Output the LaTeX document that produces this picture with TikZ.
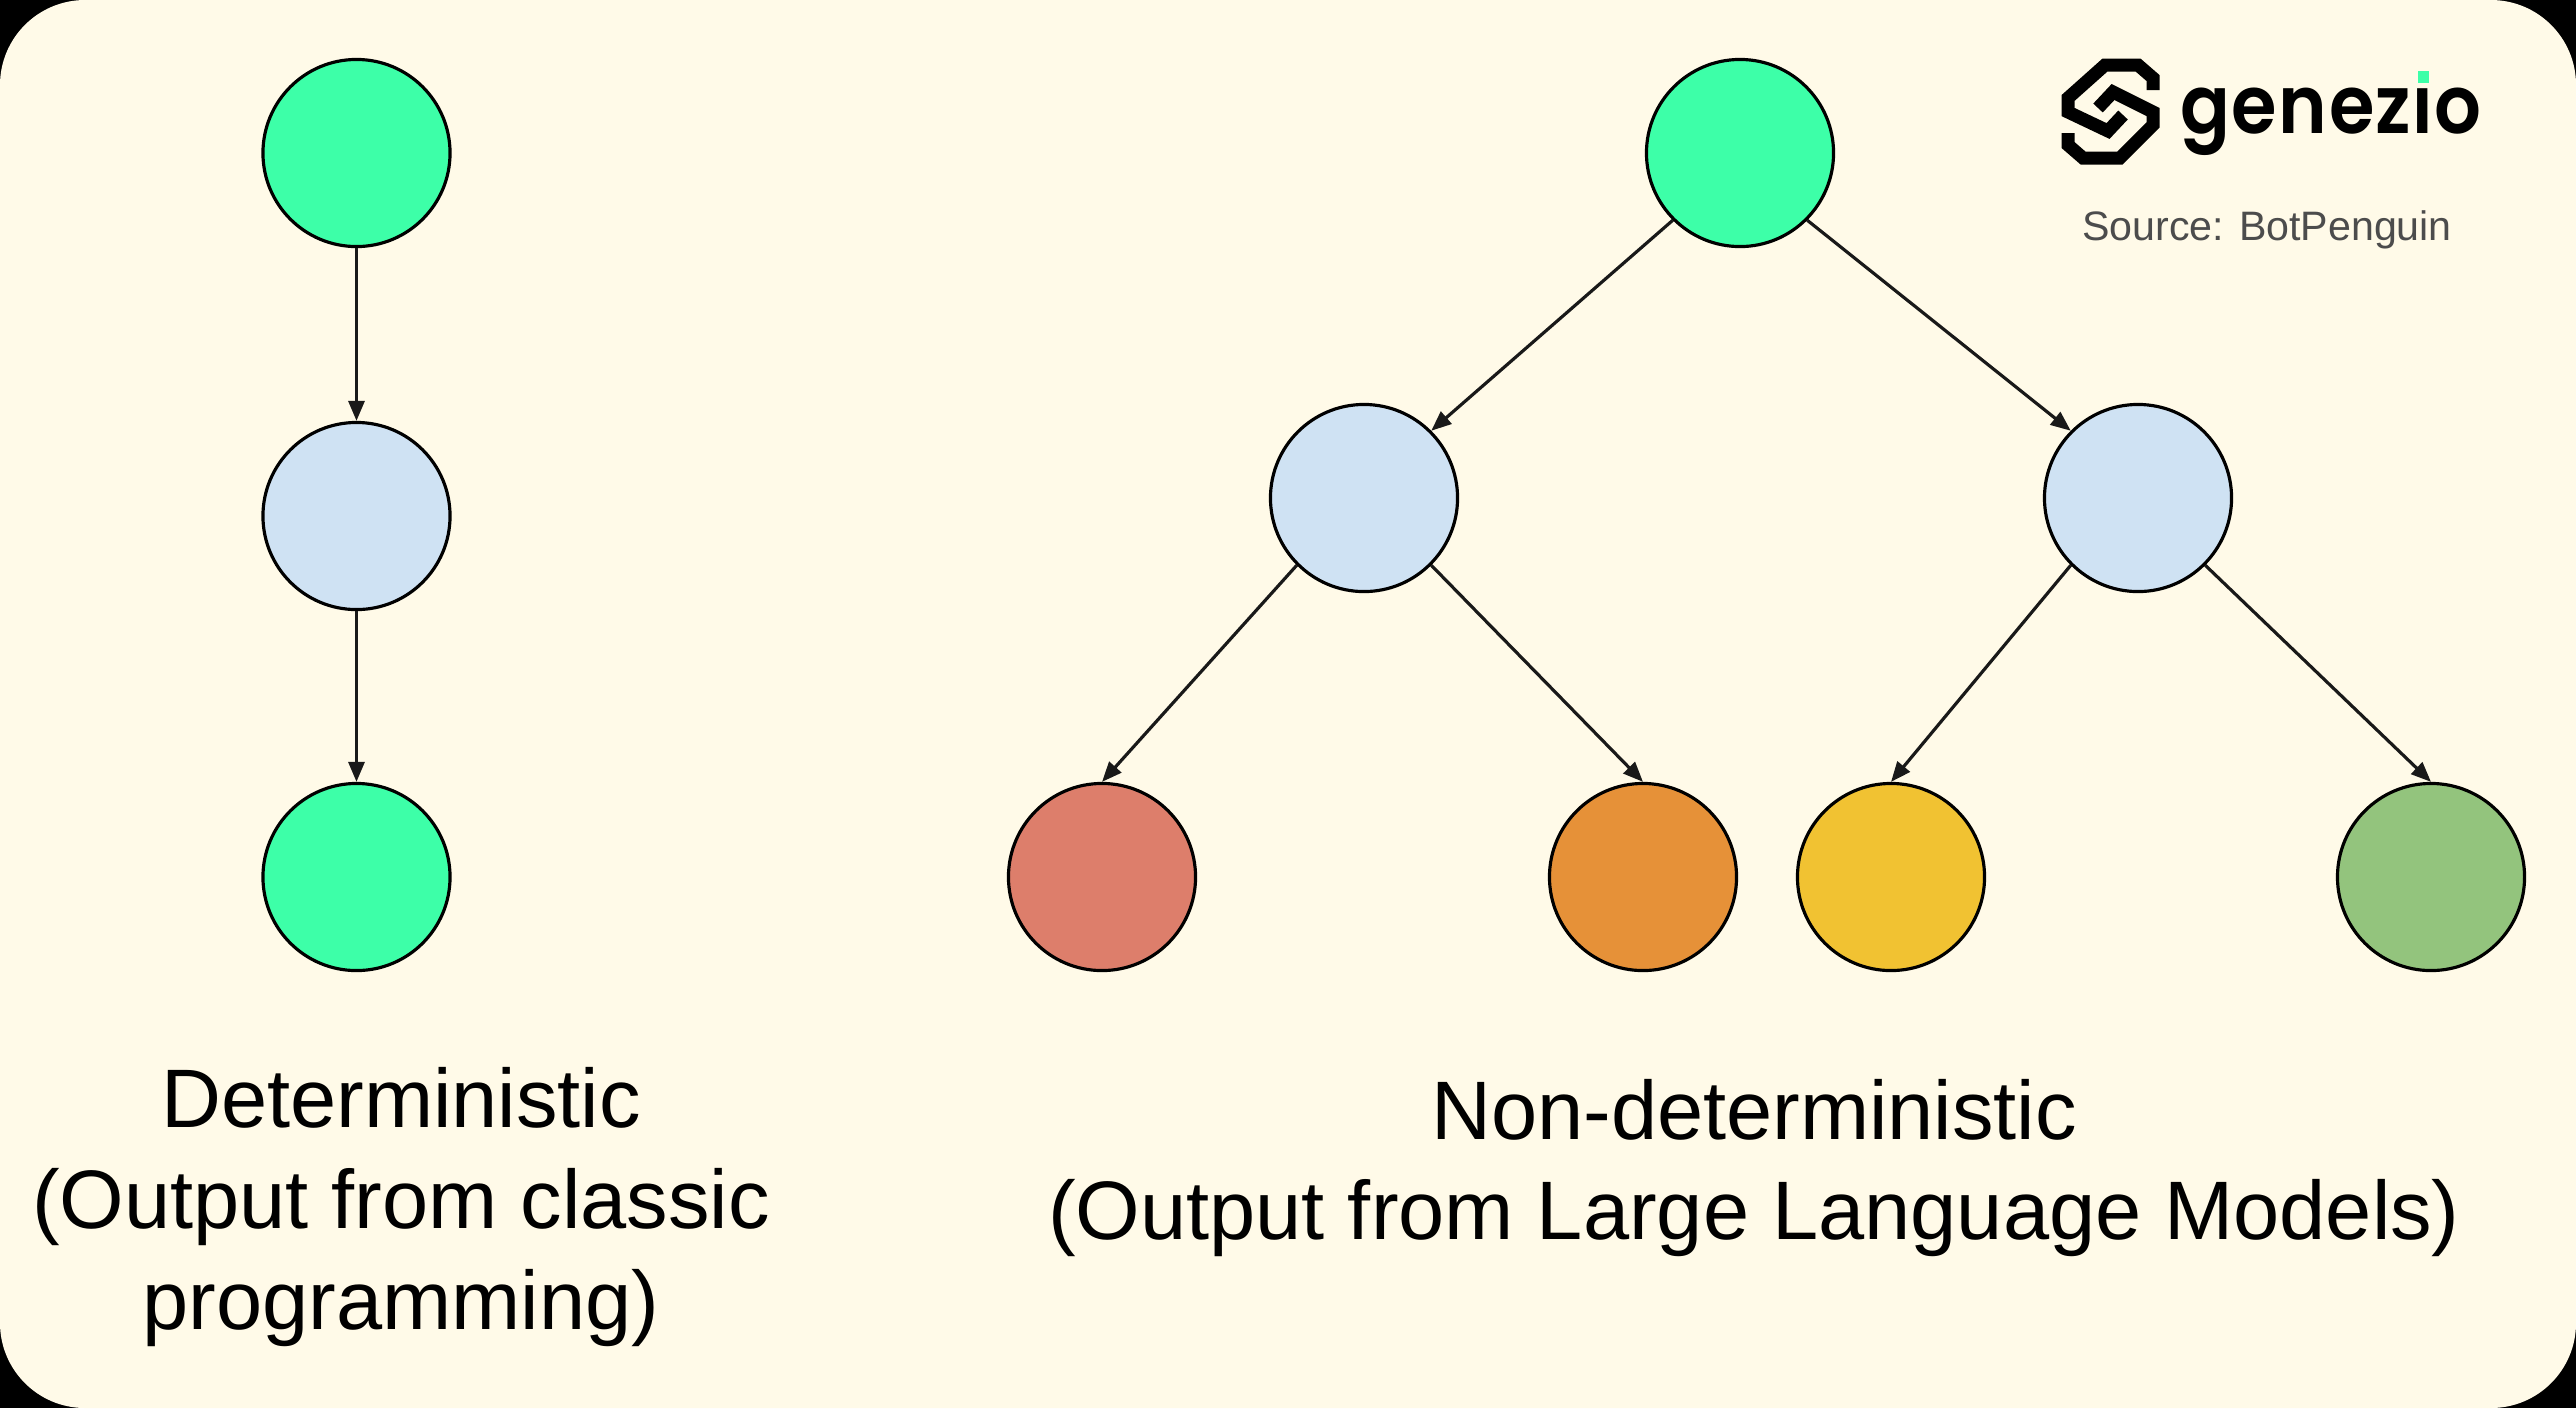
\documentclass[tikz,border=0pt]{standalone}
\usepackage{fontspec}
\setmainfont{Liberation Sans}
\newfontfamily\logofont[LetterSpace=2]{Poppins SemiBold}
\usetikzlibrary{arrows.meta}
\definecolor{creambg}{HTML}{FFFAE8}
\definecolor{mintfill}{HTML}{3DFFA8}
\definecolor{bluefill}{HTML}{CFE2F3}
\definecolor{redfill}{HTML}{DD7E6B}
\definecolor{orangefill}{HTML}{E69138}
\definecolor{yellowfill}{HTML}{F1C232}
\definecolor{greenfill}{HTML}{93C47D}
\begin{document}
\begin{tikzpicture}[x=0.01cm,y=-0.01cm]
        \tikzset{circle node/.style={circle,draw=black,line width=0.9pt,minimum size=1.87cm,inner sep=0pt}}
        \tikzset{link/.style={-{Triangle[length=0.2cm,width=0.16cm]},line width=0.9pt,black!90}}
        \tikzset{big label/.style={align=center,inner sep=0pt,font=\fontsize{23.6}{28.6}\selectfont}}
        \useasboundingbox (0,0) rectangle (2576,1408);
        \fill[black] (0,0) rectangle (2576,1408);
        \fill[creambg,rounded corners=0.85cm] (0,0) rectangle (2576,1408);
        % left chain
        \node[circle node,fill=mintfill] (top) at (356.5,153) {};
        \node[circle node,fill=bluefill] (mid) at (356.5,516) {};
        \node[circle node,fill=mintfill] (bottom) at (356.5,877) {};
        \draw[link] (top) -- (mid);
        \draw[link] (mid) -- (bottom);
        % right tree
        \node[circle node,fill=mintfill] (root) at (1740,153) {};
        \node[circle node,fill=bluefill] (left) at (1364,498) {};
        \node[circle node,fill=bluefill] (right) at (2138,498) {};
        \node[circle node,fill=redfill] (leafa) at (1102,877) {};
        \node[circle node,fill=orangefill] (leafb) at (1643,877) {};
        \node[circle node,fill=yellowfill] (leafc) at (1891,877) {};
        \node[circle node,fill=greenfill] (leafd) at (2431,877) {};
        \draw[link] (root.south west) -- (left.north east);
        \draw[link] (root.south east) -- (right.north west);
        \draw[link] (left.south west) -- (leafa.north);
        \draw[link] (left.south east) -- (leafb.north);
        \draw[link] (right.south west) -- (leafc.north);
        \draw[link] (right.south east) -- (leafd.north);
        % labels
        \node[big label] (detlabel) at (401,1207) {Deterministic\\(Output from classic\\programming)};
        \node[big label] (nondetlabel) at (1754,1168) {Non-deterministic\\(Output from Large Language Models)};
        \node[inner sep=0pt,text=black!70,font=\fontsize{11.7}{14}\selectfont] (source) at (2267,230) {Source: BotPenguin};
        % logo
        \begin{scope}[line width=0.13cm,line join=miter,black]
          \draw (2153,90) -- (2153,78) -- (2138,65) -- (2105,65) -- (2068,98) -- (2068,112) -- (2108,131) -- (2123,115);
          \draw (2068,133) -- (2068,145) -- (2083,158) -- (2120,158) -- (2153,125) -- (2153,112) -- (2113,92) -- (2098,108);
        \end{scope}
        \node[anchor=base west,inner sep=0pt,xscale=0.91,transform shape,font=\logofont\fontsize{23}{23}\selectfont] (brand) at (2180,133) {genezio};
        \fill[creambg] (2405,62) rectangle (2438,85);
        \fill[mintfill] (2418,71) rectangle (2429,83);
\end{tikzpicture}
\end{document}
